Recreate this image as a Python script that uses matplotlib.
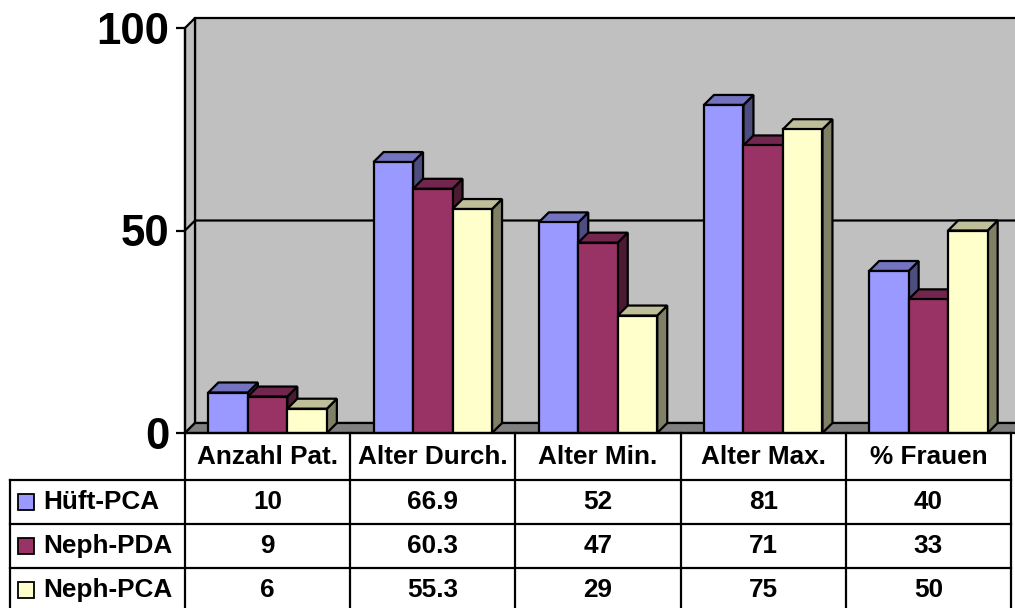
import numpy as np
import matplotlib.pyplot as plt
from matplotlib.patches import Polygon, Rectangle

plt.rcParams['font.family'] = ['Liberation Sans', 'DejaVu Sans']
plt.rcParams['font.weight'] = 'bold'

categories = ['Anzahl Pat.', 'Alter Durch.', 'Alter Min.', 'Alter Max.', '% Frauen']
series_names = ['Hüft-PCA', 'Neph-PDA', 'Neph-PCA']
hueft_pca = [10, 66.9, 52, 81, 40]
neph_pda = [9, 60.3, 47, 71, 33]
neph_pca = [6, 55.3, 29, 75, 50]
yticks = [0, 50, 100]

series = [hueft_pca, neph_pda, neph_pca]
front_colors = ['#9999FF', '#993366', '#FFFFCC']
top_colors = ['#7373BF', '#73264D', '#BFBF99']
side_colors = ['#4D4D80', '#4D1A33', '#808066']

# layout in pixels
W, H = 1015, 608
x0, y0, ytop = 185, 433, 16
col_w = 165.2
px_per_unit = 4.05
dpx = 10
lw = 1.6

fig = plt.figure(figsize=(W / 100, H / 100), dpi=100)
ax = fig.add_axes([x0 / W, (H - y0) / H, (W - x0) / W, (y0 - ytop) / H])
ax.set_xlim(0, (W - x0) / col_w)
ax.set_ylim(0, (y0 - ytop) / px_per_unit)
dx = dpx / col_w
dy = dpx / px_per_unit
xr = ax.get_xlim()[1] + 1
ymax = yticks[-1]

# walls and floor
ax.add_patch(Rectangle((dx, dy), xr, ymax, fc='#C0C0C0', ec='black', lw=lw, zorder=1, clip_on=False))
ax.add_patch(Polygon([(0, 0), (dx, dy), (dx, ymax + dy), (0, ymax)], closed=True,
                     fc='#C0C0C0', ec='black', lw=lw, zorder=1, clip_on=False))
ax.add_patch(Polygon([(0, 0), (dx, dy), (xr, dy), (xr, 0)], closed=True,
                     fc='#808080', ec='black', lw=lw, zorder=1, clip_on=False))
for t in yticks[1:-1]:
    ax.plot([0, dx, xr], [t, t + dy, t + dy], color='black', lw=lw, zorder=2)

# 3d bars
bar_w = 39.5 / col_w
gap = (1 - 3 * bar_w) / 2
for i in range(len(categories)):
    for j, vals in enumerate(series):
        v = vals[i]
        xl = i + gap + j * bar_w
        z = 3 + i * 3 + j
        ax.add_patch(Polygon([(xl + bar_w, 0), (xl + bar_w + dx, dy), (xl + bar_w + dx, v + dy), (xl + bar_w, v)],
                             closed=True, fc=side_colors[j], ec='black', lw=lw, zorder=z))
        ax.add_patch(Polygon([(xl, v), (xl + dx, v + dy), (xl + bar_w + dx, v + dy), (xl + bar_w, v)],
                             closed=True, fc=top_colors[j], ec='black', lw=lw, zorder=z))
        ax.add_patch(Rectangle((xl, 0), bar_w, v, fc=front_colors[j], ec='black', lw=lw, zorder=z))

for s in ['top', 'right', 'bottom']:
    ax.spines[s].set_visible(False)
ax.spines['left'].set_bounds(0, ymax)
ax.spines['left'].set_linewidth(lw)
ax.spines['left'].set_zorder(40)
ax.patch.set_visible(False)
ax.set_xticks([])
ax.set_yticks(yticks)
ax.tick_params(axis='y', length=6.5, width=lw, labelsize=31.5, pad=5)

# data table
tb = fig.add_axes([0, 0, 1, 1])
tb.set_xlim(0, W)
tb.set_ylim(H, 0)
tb.axis('off')
row_edges = [433, 480, 524, 568, 612]
col_edges = [x0 + k * col_w for k in range(len(categories) + 1)]
tb.plot([x0, col_edges[-1]], [row_edges[0]] * 2, color='black', lw=lw)
for y in row_edges[1:-1]:
    tb.plot([10, col_edges[-1]], [y, y], color='black', lw=lw)
tb.plot([10, 10], [row_edges[1], row_edges[-1]], color='black', lw=lw)
for x in col_edges:
    tb.plot([x, x], [row_edges[0], row_edges[-1]], color='black', lw=lw)

fs = 18.8
for k, c in enumerate(categories):
    tb.text((col_edges[k] + col_edges[k + 1]) / 2, (row_edges[0] + row_edges[1]) / 2, c,
            ha='center', va='center', fontsize=fs)
for j, (name, vals) in enumerate(zip(series_names, series)):
    yc = (row_edges[j + 1] + row_edges[j + 2]) / 2
    tb.add_patch(Rectangle((18, yc - 8), 16, 16, fc=front_colors[j], ec='black', lw=1.3))
    tb.text(43, yc, name, ha='left', va='center', fontsize=fs)
    for k, v in enumerate(vals):
        tb.text((col_edges[k] + col_edges[k + 1]) / 2, yc, f'{v:g}', ha='center', va='center', fontsize=fs)

fig.savefig('out.png', dpi=100, facecolor='white')
